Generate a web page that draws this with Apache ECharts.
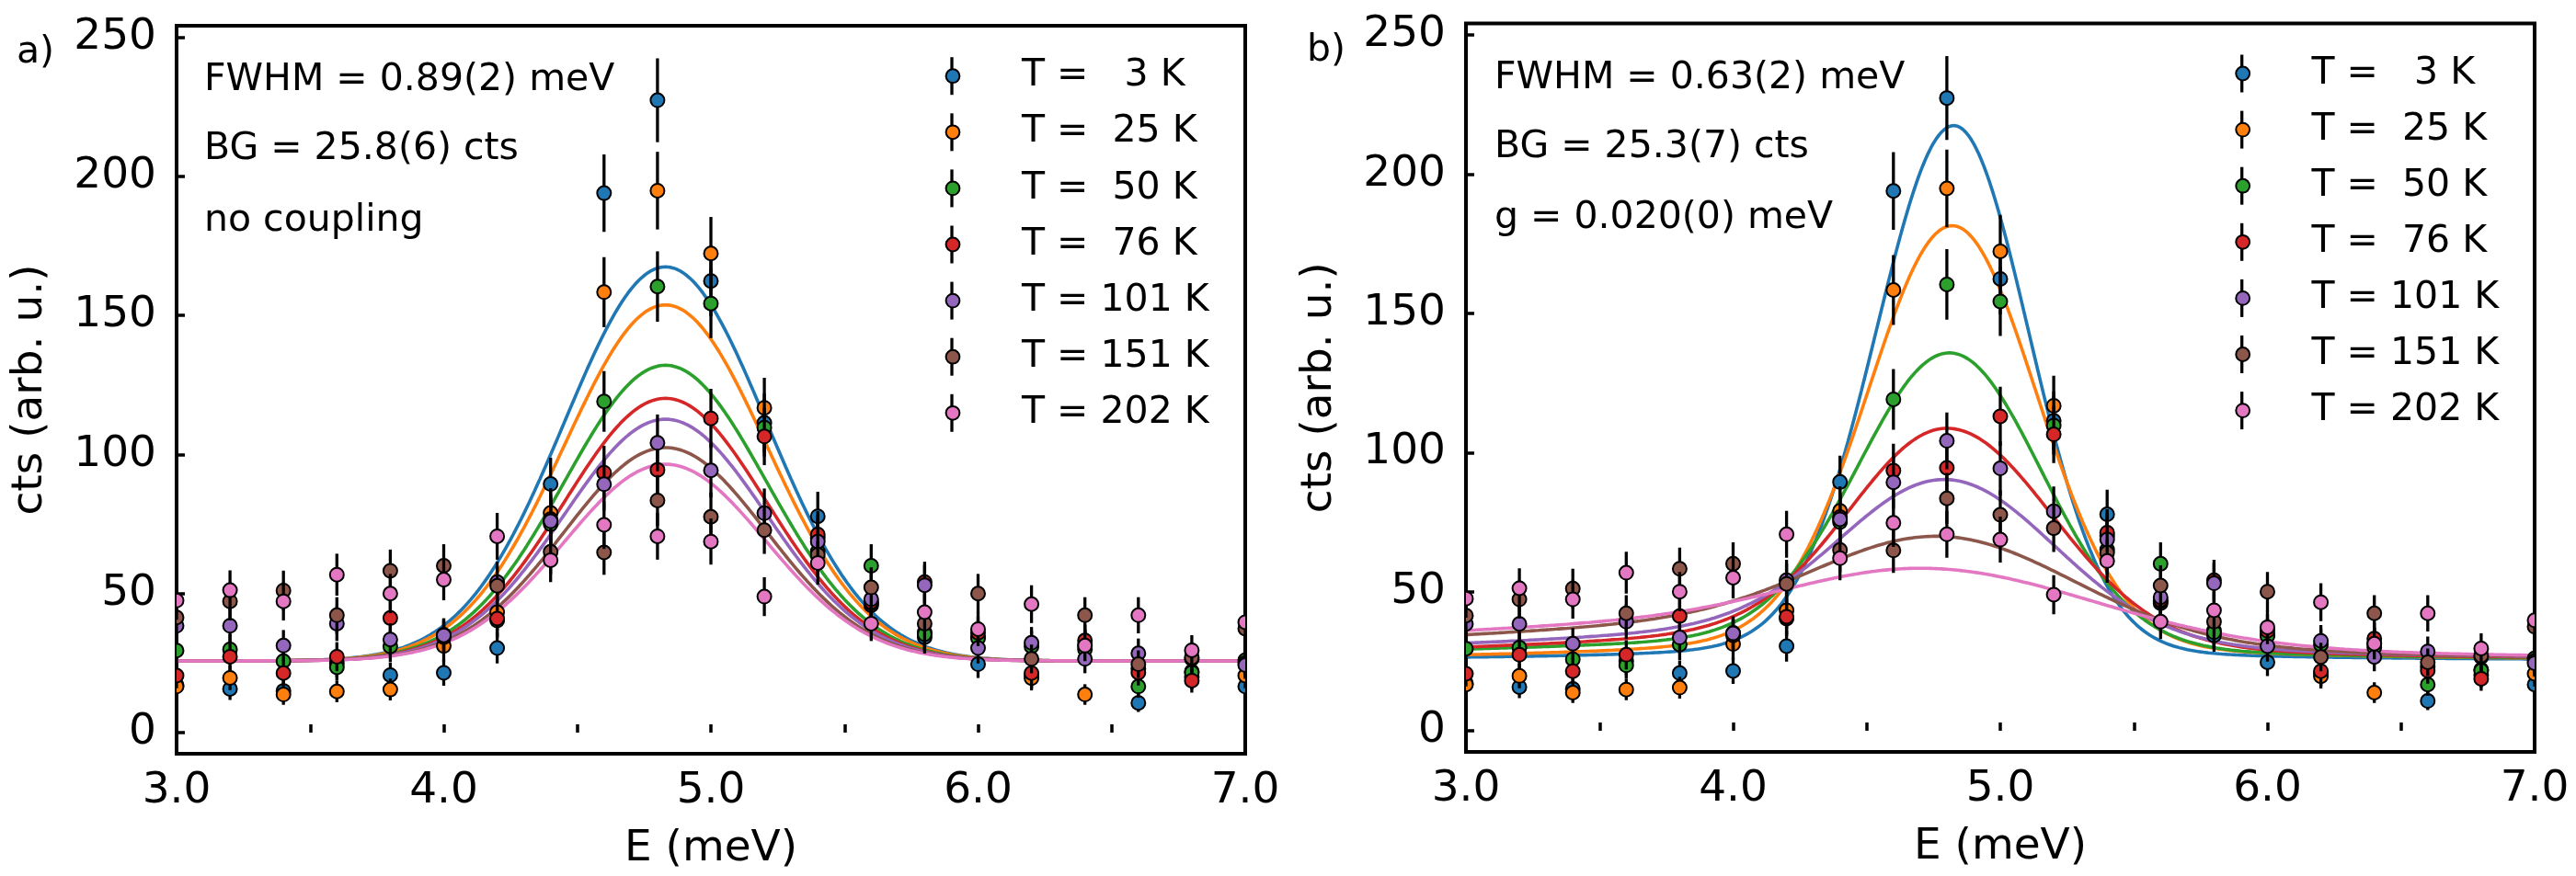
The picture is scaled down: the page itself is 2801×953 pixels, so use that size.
<!DOCTYPE html>
<html>
<head>
<meta charset="utf-8">
<script src="https://cdn.jsdelivr.net/npm/echarts@6.0.0/dist/echarts.min.js"></script>
<style>
html,body{margin:0;padding:0;background:#fff;}
#chart{width:2801px;height:953px;}
</style>
</head>
<body>
<div id="chart"></div>
<script>
// ---------------- data ----------------
const energies = [3.0, 3.2, 3.4, 3.6, 3.8, 4.0, 4.2, 4.4, 4.6, 4.8, 5.0, 5.2, 5.4, 5.6, 5.8, 6.0, 6.2, 6.4, 6.6, 6.8, 7.0];
const tempLabels = ['T =   3 K', 'T =  25 K', 'T =  50 K', 'T =  76 K', 'T = 101 K', 'T = 151 K', 'T = 202 K'];
const colors = ['#1f77b4', '#ff7f0e', '#2ca02c', '#d62728', '#9467bd', '#8c564b', '#e377c2'];

const cts3K   = [17.0, 15.7, 15.0, 25.0, 20.7, 21.5, 30.4, 89.4, 194.0, 227.4, 162.4, 111.4, 77.8, 45.8, 34.3, 24.6, 20.5, 31.5, 10.7, 20.0, 16.6];
const cts25K  = [16.6, 19.7, 13.7, 14.8, 15.5, 31.2, 43.3, 79.0, 158.4, 194.9, 172.3, 116.8, 70.0, 46.5, 36.0, 34.5, 19.6, 13.7, 23.0, 22.0, 20.5];
const cts50K  = [29.5, 29.9, 25.7, 23.5, 31.0, 35.2, 40.3, 75.0, 119.1, 160.4, 154.3, 109.7, 65.1, 60.0, 35.4, 34.0, 31.0, 30.0, 16.6, 21.6, 26.0];
const cts76K  = [20.5, 27.3, 21.4, 27.3, 41.2, 34.3, 41.0, 76.8, 93.5, 94.5, 113.0, 106.5, 71.2, 47.0, 54.1, 35.9, 21.4, 33.1, 21.6, 18.7, 25.0];
const cts101K = [38.4, 38.4, 31.3, 39.2, 33.5, 35.0, 54.1, 76.0, 89.3, 104.2, 94.3, 78.9, 68.7, 48.0, 53.0, 30.4, 32.3, 26.5, 28.5, 26.5, 24.3];
const cts151K = [41.4, 47.2, 51.1, 42.2, 58.2, 60.0, 52.8, 65.0, 64.8, 83.5, 77.6, 72.8, 64.0, 52.2, 39.2, 50.0, 26.5, 42.2, 24.6, 27.0, 37.4];
const cts202K = [47.5, 51.2, 47.2, 56.8, 50.0, 55.0, 70.6, 62.0, 74.7, 70.6, 68.7, 48.9, 61.0, 39.2, 43.3, 37.2, 46.2, 31.3, 42.2, 29.6, 39.7];
const countsByT = [cts3K, cts25K, cts50K, cts76K, cts101K, cts151K, cts202K];

// panel a fit (Gaussian, no coupling): parameters
const fitA_bg = 25.8;
const fitA_fwhm = 0.89;
const fitA_center = 4.83;
const fitA_peak = [167.5, 153.8, 132.1, 120.2, 112.7, 102.5, 96.5];

// panel b fit (with coupling): line-shape parameters
const fitB_bg = 25.3;
const fitB_peak   = [217.5, 181.5, 135.8, 108.7, 90.3, 69.9, 58.4];
const fitB_center = [4.826, 4.82, 4.81, 4.80, 4.79, 4.76, 4.70];
const fitB_etaL = [0.062, 0.090, 0.090, 0.168, 0.231, 0.404, 0.526];
const fitB_hGL  = [0.34, 0.365, 0.40, 0.42, 0.45, 0.52, 0.565];
const fitB_hLL  = [0.60, 0.75, 1.50, 1.30, 1.50, 1.80, 2.15];
const fitB_etaR = [0.052, 0.077, 0.072, 0.120, 0.154, 0.179, 0.181];
const fitB_hGR  = [0.33, 0.368, 0.40, 0.46, 0.48, 0.60, 0.75];
const fitB_hLR  = [0.50, 0.60, 0.80, 0.80, 0.90, 1.10, 1.50];

const annotA = ['FWHM = 0.89(2) meV', 'BG = 25.8(6) cts', 'no coupling'];
const annotB = ['FWHM = 0.63(2) meV', 'BG = 25.3(7) cts', 'g = 0.020(0) meV'];

// ---------------- model curves ----------------
function fitA(x, i) {
  const s = fitA_fwhm / (2 * Math.sqrt(2 * Math.LN2));
  const d = x - fitA_center;
  return fitA_bg + (fitA_peak[i] - fitA_bg) * Math.exp(-d * d / (2 * s * s));
}
function fitB(x, i) {
  const A = fitB_peak[i] - fitB_bg;
  const d = x - fitB_center[i];
  const left = d < 0;
  const eta = left ? fitB_etaL[i] : fitB_etaR[i];
  const hG = left ? fitB_hGL[i] : fitB_hGR[i];
  const hL = left ? fitB_hLL[i] : fitB_hLR[i];
  return fitB_bg + A * ((1 - eta) * Math.exp(-Math.LN2 * d * d / (hG * hG)) + eta * hL * hL / (d * d + hL * hL));
}
const modelX = [];
for (let k = 0; k <= 400; k++) modelX.push(3 + k * 0.01);

// ---------------- layout ----------------
const FONT = 'DejaVu Sans';
const grids = [
  {left: 192, top: 28, width: 1162, height: 792},
  {left: 1594, top: 25.5, width: 1162, height: 792.5}
];
const legendPos = [
  {iconX: 1035, textX: 1110, firstRow: 82.7},
  {iconX: 2437.7, textX: 2512.5, firstRow: 80}
];
const rowStep = 61.1;
const iconSize = 14.8;
const annotPos = [
  {x: 222, ys: [87.5, 162.5, 240.8], label: 'a)', lx: 18, ly: 57.5},
  {x: 1625, ys: [85.8, 160.8, 237.5], label: 'b)', lx: 1421, ly: 55.8}
];

function makeRender(color) {
  return function (params, api) {
    const x = api.value(0), y = api.value(1), e = api.value(2);
    const p0 = api.coord([x, y + e]);
    const p1 = api.coord([x, y - e]);
    const c = api.coord([x, y]);
    return {
      type: 'group',
      children: [
        {type: 'line', shape: {x1: p0[0], y1: p0[1], x2: p1[0], y2: p1[1]}, style: {stroke: '#000', lineWidth: 3.3}},
        {type: 'circle', shape: {cx: c[0], cy: c[1], r: 7.5}, style: {fill: color, stroke: '#000', lineWidth: 2}}
      ]
    };
  };
}

const series = [];
const xAxes = [], yAxes = [], legends = [], graphics = [];
[0, 1].forEach(function (p) {
  xAxes.push({
    type: 'value', gridIndex: p, min: 3, max: 7, interval: 0.5,
    axisLine: {show: false},
    axisTick: {inside: true, length: 9, lineStyle: {color: '#000', width: 3.5}},
    splitLine: {show: false},
    axisLabel: {
      margin: 17, fontSize: 47, lineHeight: 47, fontFamily: FONT, color: '#000',
      formatter: function (v) { return Math.abs(v - Math.round(v)) < 1e-6 ? v.toFixed(1) : ''; }
    },
    name: 'E (meV)', nameLocation: 'middle', nameGap: 80,
    nameTextStyle: {fontSize: 47, lineHeight: 47, fontFamily: FONT, color: '#000'}
  });
  yAxes.push({
    type: 'value', gridIndex: p, min: -7.6, max: 254.2, splitNumber: 5,
    axisLine: {show: false},
    axisTick: {inside: true, length: 9, lineStyle: {color: '#000', width: 3.5}},
    splitLine: {show: false},
    axisLabel: {
      margin: 22, fontSize: 47, fontFamily: FONT, color: '#000', showMinLabel: false, showMaxLabel: false,
      formatter: function (v) { return Math.abs(v % 50) < 1e-6 ? String(v) : ''; }
    },
    name: 'cts (arb. u.)', nameLocation: 'middle', nameGap: 136,
    nameTextStyle: {fontSize: 47, lineHeight: 47, fontFamily: FONT, color: '#000'}
  });
  const fit = p === 0 ? fitA : fitB;
  tempLabels.forEach(function (name, i) {
    series.push({
      type: 'line', name: name + ' fit', xAxisIndex: p, yAxisIndex: p,
      data: modelX.map(function (x) { return [x, fit(x, i)]; }),
      showSymbol: false, symbol: 'none', silent: true, clip: true, z: 2,
      lineStyle: {color: colors[i], width: 3.6}, itemStyle: {color: colors[i]}
    });
  });
  tempLabels.forEach(function (name, i) {
    series.push({
      type: 'custom', name: name, xAxisIndex: p, yAxisIndex: p, clip: true, z: 3, silent: true,
      itemStyle: {color: colors[i]},
      renderItem: makeRender(colors[i]),
      encode: {x: 0, y: 1},
      data: energies.map(function (e, k) {
        const v = countsByT[i][k];
        return [e, v, Math.sqrt(v)]; // Poisson counting error
      })
    });
  });
  const lp = legendPos[p];
  const textPad = lp.textX - (lp.iconX + iconSize / 2) - 5;
  legends.push({
    orient: 'vertical', left: lp.iconX - iconSize / 2, top: lp.firstRow - 22, padding: 0,
    itemWidth: iconSize, itemHeight: iconSize, itemGap: rowStep - 44, selectedMode: false,
    textStyle: {fontFamily: FONT, fontSize: 41, lineHeight: 44, color: '#000', padding: [0, 0, 0, textPad]},
    data: tempLabels.map(function (n, i) {
      return {name: n, icon: 'circle', itemStyle: {color: colors[i], borderColor: '#000', borderWidth: 2}};
    })
  });
  tempLabels.forEach(function (n, i) {
    const cy = lp.firstRow + i * rowStep;
    graphics.push({type: 'line', z: 1, shape: {x1: lp.iconX, y1: cy - 20.5, x2: lp.iconX, y2: cy + 20.5},
      style: {stroke: '#000', lineWidth: 3.3}});
  });
  const ap = annotPos[p];
  const texts = p === 0 ? annotA : annotB;
  texts.forEach(function (t, j) {
    graphics.push({type: 'text', x: ap.x, y: ap.ys[j],
      style: {text: t, font: '41px "' + FONT + '"', fill: '#000', align: 'left', verticalAlign: 'middle'}});
  });
  graphics.push({type: 'text', x: ap.lx, y: ap.ly,
    style: {text: ap.label, font: '41px "' + FONT + '"', fill: '#000', align: 'left', verticalAlign: 'middle'}});
});

const chart = echarts.init(document.getElementById('chart'), null, {renderer: 'canvas'});
chart.setOption({
  animation: false,
  backgroundColor: '#fff',
  grid: grids.map(function (g) {
    return Object.assign({show: true, borderColor: '#000', borderWidth: 4, backgroundColor: 'transparent', containLabel: false}, g);
  }),
  xAxis: xAxes,
  yAxis: yAxes,
  legend: legends,
  graphic: graphics,
  series: series
});
</script>
</body>
</html>
